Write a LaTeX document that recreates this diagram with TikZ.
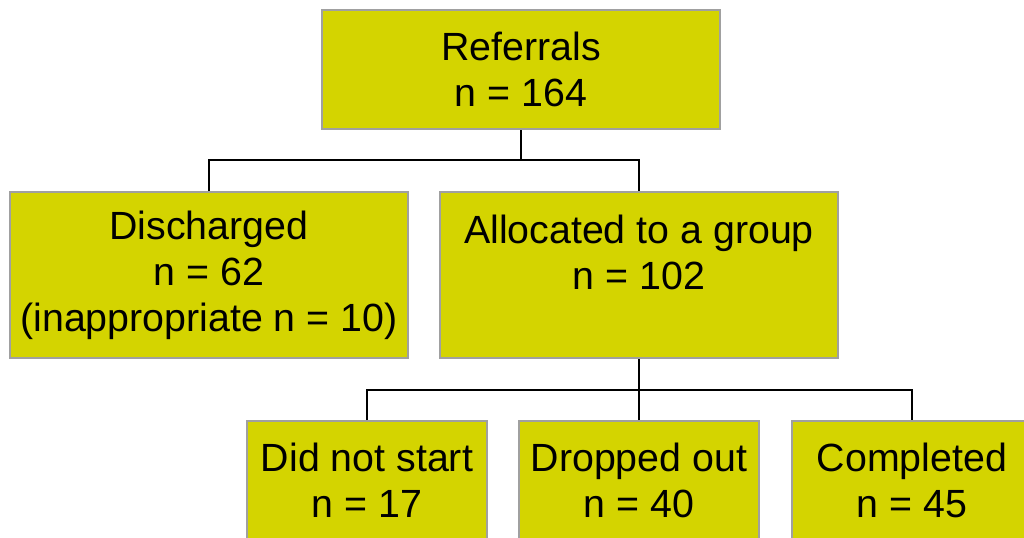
\documentclass[tikz,border=0pt]{standalone}
\usepackage{fontspec}
\setmainfont{Liberation Sans}
\definecolor{boxfill}{RGB}{212,212,0}
\definecolor{boxline}{RGB}{160,160,160}
\begin{document}
\begin{tikzpicture}[x=0.75pt,y=-0.75pt,
  box/.style={draw=boxline,fill=boxfill,line width=1.5pt,inner sep=0pt,align=center,
    font=\fontsize{29.5}{34.5}\selectfont},
  big/.style={box,minimum width=298.5pt,minimum height=124.5pt},
  top/.style={box,minimum width=298.5pt,minimum height=89.25pt},
  small/.style={box,minimum width=180pt,minimum height=89.25pt},
  conn/.style={draw=black,line width=1.5pt}]
\useasboundingbox (0,0) rectangle (1024,537);
\clip (0,0) rectangle (1024,537);
\node[top] (ref) at (521,69.5) {Referrals\\n = 164};
\node[big] (dis) at (209,275) {Discharged\\n = 62\\(inappropriate n = 10)};
\node[big] (alloc) at (639,275) {Allocated to a group\\n = 102\\\mbox{}};
\node[small] (dns) at (367,480.5) {Did not start\\n = 17};
\node[small] (drop) at (639,480.5) {Dropped out\\n = 40};
\node[small] (comp) at (912,480.5) {Completed\\n = 45};
\coordinate (j1) at (521,160);
\coordinate (j2) at (639,390);
\draw[conn] (ref.south) -- (j1);
\draw[conn] (dis.north) |- (j1) -| (alloc.north);
\draw[conn] (alloc.south) -- (j2);
\draw[conn] (dns.north) |- (j2) -| (comp.north);
\draw[conn] (drop.north) -- (j2);
\end{tikzpicture}
\end{document}
